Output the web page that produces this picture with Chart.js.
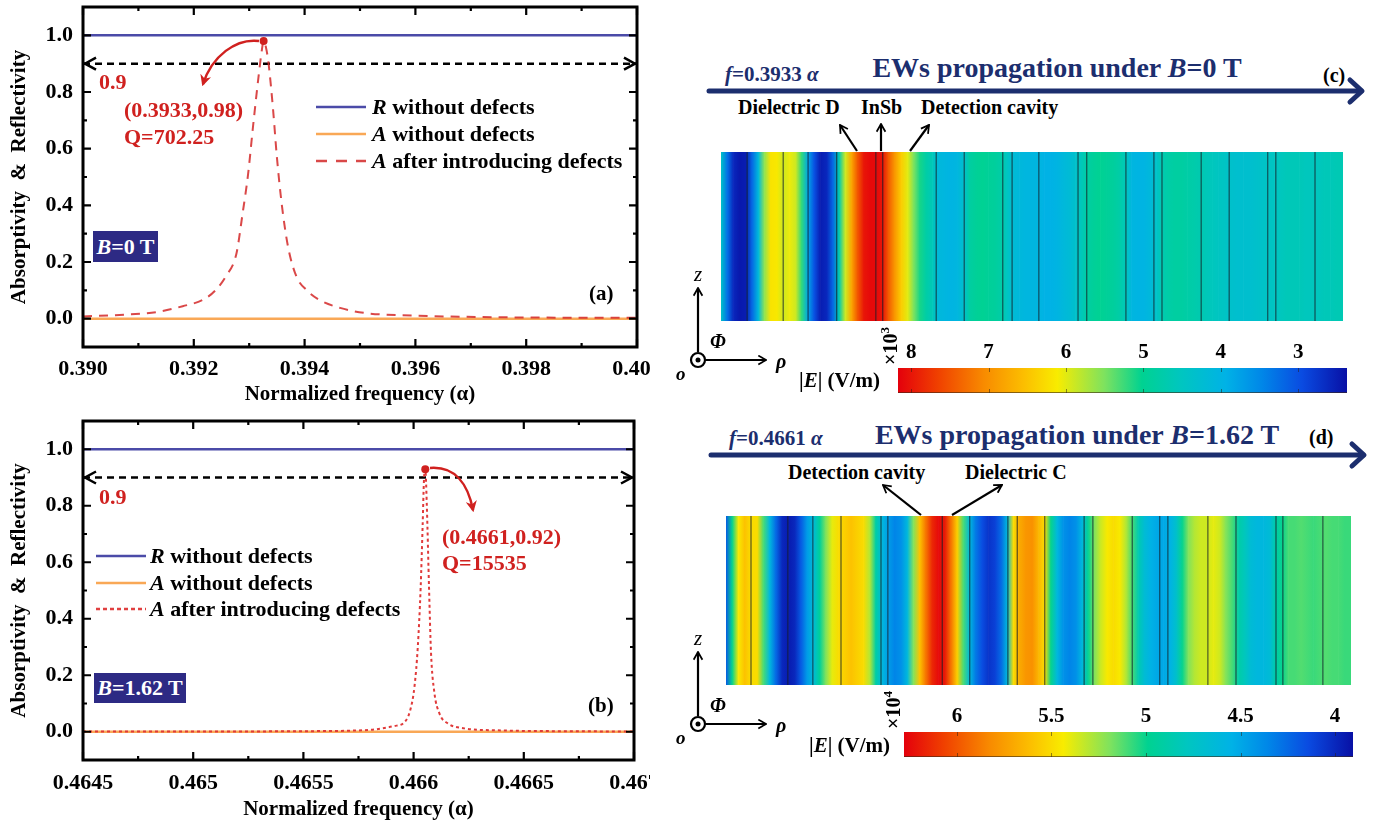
<!DOCTYPE html>
<html>
<head>
<meta charset="utf-8">
<script src="https://cdn.jsdelivr.net/npm/chart.js@4.4.0/dist/chart.umd.min.js"></script>
<style>
  body { margin: 0; width: 1387px; height: 826px; background: #fff; position: relative; overflow: hidden;
         font-family: "Liberation Serif", "Times New Roman", serif; font-weight: bold; }
  .box { position: absolute; overflow: hidden; }
  canvas { display: block; }
  .t { position: absolute; white-space: nowrap; line-height: 1; transform: translate(0, -50%); }
  .c { transform: translate(-50%, -50%); }
  .red { color: #d0211f; font-size: 22px; }
  .lg { font-size: 22px; color: #000; }
  .navy { color: #1c2e6e; }
  .tag { position: absolute; background: #2d2a84; color: #fff; font-size: 22px; line-height: 1;
         display: flex; align-items: center; justify-content: center; }
  svg { position: absolute; left: 0; top: 0; pointer-events: none; }
</style>
</head>
<body>

<div class="box" style="left:0;top:0;width:650px;height:415px"><canvas id="chartA" width="690" height="415"></canvas></div>
<div class="box" style="left:0;top:415px;width:650px;height:411px"><canvas id="chartB" width="690" height="411"></canvas></div>
<div class="box" style="left:721px;top:152px;width:622px;height:169px"><canvas id="fieldC" width="622" height="169"></canvas></div>
<div class="box" style="left:726px;top:516px;width:625px;height:169px"><canvas id="fieldD" width="625" height="169"></canvas></div>
<div class="box" style="left:880px;top:330px;width:480px;height:64px"><canvas id="barC" width="480" height="64"></canvas></div>
<div class="box" style="left:880px;top:694px;width:480px;height:64px"><canvas id="barD" width="480" height="64"></canvas></div>

<!-- panel (a) texts -->
<div class="t red" style="left:99px;top:82px">0.9</div>
<div class="t red" style="left:124px;top:110px">(0.3933,0.98)</div>
<div class="t red" style="left:124px;top:137px">Q=702.25</div>
<div class="t lg" style="left:372px;top:107px"><i>R</i> without defects</div>
<div class="t lg" style="left:372px;top:134px"><i>A</i> without defects</div>
<div class="t lg" style="left:372px;top:161px"><i>A</i> after introducing defects</div>
<div class="tag" style="left:93px;top:231px;width:65px;height:31px"><i>B</i>=0 T</div>
<div class="t" style="left:589px;top:293px;font-size:21px">(a)</div>

<!-- panel (b) texts -->
<div class="t red" style="left:99px;top:497px">0.9</div>
<div class="t red" style="left:442px;top:537px">(0.4661,0.92)</div>
<div class="t red" style="left:442px;top:563px">Q=15535</div>
<div class="t lg" style="left:150px;top:556px"><i>R</i> without defects</div>
<div class="t lg" style="left:150px;top:583px"><i>A</i> without defects</div>
<div class="t lg" style="left:150px;top:609px"><i>A</i> after introducing defects</div>
<div class="tag" style="left:94px;top:673px;width:92px;height:30px"><i>B</i>=1.62 T</div>
<div class="t" style="left:588px;top:705px;font-size:21px">(b)</div>

<!-- panel (c) texts -->
<div class="t navy" style="left:725px;top:74px;font-size:21px"><i>f</i>=0.3933 <i>α</i></div>
<div class="t c navy" style="left:1057px;top:68px;font-size:28px">EWs propagation under <i>B</i>=0 T</div>
<div class="t" style="left:1323px;top:75px;font-size:20px">(c)</div>
<div class="t" style="left:738px;top:107px;font-size:20px">Dielectric D</div>
<div class="t" style="left:861px;top:107px;font-size:20px">InSb</div>
<div class="t" style="left:921px;top:107px;font-size:20px">Detection cavity</div>
<div class="t c" style="left:698px;top:274px;font-size:21px;font-weight:normal"><i>z</i></div>
<div class="t" style="left:710px;top:341px;font-size:20px"><i>Φ</i></div>
<div class="t" style="left:776px;top:361px;font-size:20px"><i>ρ</i></div>
<div class="t" style="left:676px;top:373px;font-size:19px"><i>o</i></div>
<div class="t" style="left:799px;top:380px;font-size:21px">|<i>E</i>| (V/m)</div>
<div class="t c" style="left:889px;top:346px;font-size:20px;transform:translate(-50%,-50%) rotate(-90deg)">×10<sup style="font-size:13px">3</sup></div>

<!-- panel (d) texts -->
<div class="t navy" style="left:729px;top:438px;font-size:21px"><i>f</i>=0.4661 <i>α</i></div>
<div class="t c navy" style="left:1077px;top:435px;font-size:28px">EWs propagation under <i>B</i>=1.62 T</div>
<div class="t" style="left:1309px;top:437px;font-size:20px">(d)</div>
<div class="t" style="left:788px;top:472px;font-size:20px">Detection cavity</div>
<div class="t" style="left:965px;top:472px;font-size:20px">Dielectric C</div>
<div class="t c" style="left:698px;top:638px;font-size:21px;font-weight:normal"><i>z</i></div>
<div class="t" style="left:710px;top:705px;font-size:20px"><i>Φ</i></div>
<div class="t" style="left:776px;top:725px;font-size:20px"><i>ρ</i></div>
<div class="t" style="left:676px;top:737px;font-size:19px"><i>o</i></div>
<div class="t" style="left:809px;top:745px;font-size:21px">|<i>E</i>| (V/m)</div>
<div class="t c" style="left:892px;top:710px;font-size:20px;transform:translate(-50%,-50%) rotate(-90deg)">×10<sup style="font-size:13px">4</sup></div>

<svg width="1387" height="826">
  <defs>
    <marker id="hr" viewBox="0 0 10 10" refX="8" refY="5" markerWidth="4.5" markerHeight="4.5" orient="auto">
      <path d="M0,0 L10,5 L0,10 L3,5 z" fill="#d0211f"/>
    </marker>
    <marker id="hk" viewBox="0 0 10 10" refX="9" refY="5" markerWidth="5" markerHeight="5" orient="auto">
      <path d="M2,1 L9,5 L2,9" fill="none" stroke="#000" stroke-width="1.6" stroke-linejoin="miter"/>
    </marker>
  </defs>
  <!-- legend samples -->
  <line x1="316" y1="107" x2="366" y2="107" stroke="#4b4ba8" stroke-width="2.5"/>
  <line x1="316" y1="134" x2="366" y2="134" stroke="#f9a856" stroke-width="2.5"/>
  <line x1="316" y1="161" x2="366" y2="161" stroke="#d94848" stroke-width="2.5" stroke-dasharray="11 9"/>
  <line x1="96" y1="556" x2="146" y2="556" stroke="#4b4ba8" stroke-width="2.5"/>
  <line x1="96" y1="583" x2="146" y2="583" stroke="#f9a856" stroke-width="2.5"/>
  <line x1="96" y1="609" x2="146" y2="609" stroke="#e04040" stroke-width="2.5" stroke-dasharray="4 3"/>
  <!-- red curved callouts -->
  <path d="M259,41 C236,38 212,56 203,84" stroke="#d0211f" stroke-width="2.5" fill="none" marker-end="url(#hr)"/>
  <path d="M430,468 C455,466 468,484 473,510" stroke="#d0211f" stroke-width="2.5" fill="none" marker-end="url(#hr)"/>
  <!-- propagation arrows -->
  <line x1="709" y1="91" x2="1361" y2="91" stroke="#1c2e6e" stroke-width="5" stroke-linecap="round"/>
  <polyline points="1350,80 1362,91 1350,102" fill="none" stroke="#1c2e6e" stroke-width="5" stroke-linecap="round" stroke-linejoin="round"/>
  <line x1="711" y1="455" x2="1363" y2="455" stroke="#1c2e6e" stroke-width="5" stroke-linecap="round"/>
  <polyline points="1352,444 1364,455 1352,466" fill="none" stroke="#1c2e6e" stroke-width="5" stroke-linecap="round" stroke-linejoin="round"/>
  <!-- layer pointers -->
  <g stroke="#000" stroke-width="2.2" fill="none" marker-end="url(#hk)">
    <line x1="857" y1="151" x2="840" y2="125"/>
    <line x1="881" y1="151" x2="881" y2="124"/>
    <line x1="910" y1="151" x2="929" y2="125"/>
    <line x1="921" y1="515" x2="883" y2="485"/>
    <line x1="952" y1="515" x2="1002" y2="485"/>
    <line x1="698" y1="352" x2="698" y2="288"/>
    <line x1="706" y1="360" x2="766" y2="360"/>
    <line x1="698" y1="716" x2="698" y2="652"/>
    <line x1="706" y1="724" x2="766" y2="724"/>
  </g>
  <circle cx="698" cy="360" r="7" fill="none" stroke="#000" stroke-width="2.2"/>
  <circle cx="698" cy="360" r="2.5" fill="#000"/>
  <circle cx="698" cy="724" r="7" fill="none" stroke="#000" stroke-width="2.2"/>
  <circle cx="698" cy="724" r="2.5" fill="#000"/>
</svg>

<script>
// ---- panel (a): B = 0 T ----
const edgesA = [0.390, 0.400];
const reflA = [1.0, 1.0];
const absNoDefA = [0.0, 0.0];
const freqA = [0.39000, 0.39075, 0.39135, 0.39180, 0.39217, 0.39239, 0.39258, 0.39277, 0.39288, 0.39298,
               0.39307, 0.39316, 0.39323, 0.39326, 0.39330, 0.39335, 0.39343, 0.39350, 0.39359, 0.39370,
               0.39385, 0.39404, 0.39426, 0.39464, 0.39509, 0.39598, 0.39748, 0.40000];
const absA = [0.008, 0.014, 0.024, 0.044, 0.067, 0.100, 0.150, 0.230, 0.370, 0.510,
              0.680, 0.840, 0.950, 0.980, 0.960, 0.900, 0.740, 0.570, 0.400, 0.255,
              0.150, 0.100, 0.067, 0.038, 0.020, 0.011, 0.005, 0.003];
const peakA = [0.39326, 0.98];
const xTicksA = [0.390, 0.392, 0.394, 0.396, 0.398, 0.400];

// ---- panel (b): B = 1.62 T ----
const edgesB = [0.4645, 0.4670];
const reflB = [1.0, 1.0];
const absNoDefB = [0.0, 0.0];
const freqB = [0.46450, 0.46500, 0.46550, 0.46572, 0.46582, 0.46591, 0.46596, 0.465985, 0.466004, 0.466019,
               0.466032, 0.466041, 0.466047, 0.466053, 0.466060, 0.466070, 0.466079, 0.466094, 0.466117, 0.466154,
               0.46623, 0.46638, 0.46666, 0.46700];
const absB = [0.001, 0.001, 0.002, 0.004, 0.008, 0.020, 0.035, 0.077, 0.160, 0.300,
              0.510, 0.730, 0.890, 0.930, 0.800, 0.510, 0.280, 0.140, 0.065, 0.030,
              0.012, 0.005, 0.002, 0.001];
const peakB = [0.466053, 0.929];
const xTicksB = [0.4645, 0.4650, 0.4655, 0.4660, 0.4665, 0.4670];

const threshold = [0.9, 0.9];
const yTicks = [0.0, 0.2, 0.4, 0.6, 0.8, 1.0];

// ---- field maps |E| along rho (c: x10^3 V/m, d: x10^4 V/m), one sample per 1% of the map width ----
const fieldC = [
  4.40, 3.30, 2.60, 2.45, 2.50, 3.20, 4.10, 5.60, 6.20, 6.15,
  5.90, 6.05, 5.90, 5.20, 3.80, 3.00, 2.50, 2.60, 3.20, 4.70,
  5.90, 6.80, 7.50, 8.00, 8.10, 8.10, 8.00, 7.40, 6.90, 6.40,
  6.00, 5.50, 5.10, 4.80, 4.60, 4.10, 4.05, 4.00, 4.05, 4.30,
  4.85, 4.95, 5.00, 4.95, 4.90, 4.80, 4.50, 4.20, 4.10, 4.05,
  4.05, 4.05, 3.95, 3.95, 4.00, 4.10, 4.20, 4.35, 4.60, 4.85,
  4.95, 5.00, 4.95, 4.90, 4.80, 4.60, 4.05, 4.00, 4.00, 4.10,
  4.40, 4.70, 4.80, 4.85, 4.85, 4.80, 4.75, 4.70, 4.60, 4.55,
  4.50, 4.45, 4.35, 4.30, 4.30, 4.30, 4.35, 4.40, 4.45, 4.50,
  4.55, 4.60, 4.60, 4.60, 4.55, 4.55, 4.55, 4.60, 4.60, 4.65,
  4.65];
const fieldD = [
  4.20, 5.00, 5.45, 5.60, 5.50, 5.50, 5.10, 4.60, 4.25, 4.00,
  3.95, 4.00, 4.20, 4.45, 4.65, 4.95, 5.20, 5.40, 5.50, 5.55,
  5.60, 5.55, 5.50, 5.30, 4.90, 4.60, 4.45, 4.35, 4.40, 4.60,
  5.20, 5.60, 5.90, 6.15, 6.25, 6.20, 5.90, 5.55, 5.10, 4.60,
  4.30, 4.15, 4.05, 4.10, 4.25, 4.60, 5.50, 5.70, 5.78, 5.80,
  5.65, 5.50, 5.00, 4.60, 4.40, 4.35, 4.40, 4.60, 5.00, 5.20,
  5.35, 5.45, 5.50, 5.45, 5.30, 5.10, 4.85, 4.65, 4.55, 4.50,
  4.50, 4.55, 4.70, 5.00, 5.20, 5.30, 5.35, 5.35, 5.40, 5.35,
  5.20, 5.10, 4.90, 4.80, 4.65, 4.60, 4.60, 4.65, 4.90, 5.00,
  5.10, 5.10, 5.12, 5.10, 5.08, 5.10, 5.12, 5.10, 5.10, 5.08,
  5.08];
// layer interfaces, in % of map width
const boundC = [4.2, 10.0, 14.0, 18.6, 24.9, 26.0, 34.6, 39.1, 45.3, 46.8, 51.1, 57.4, 58.8, 65.1, 69.6, 70.9, 77.2, 81.7, 87.9, 89.2, 95.5];
const boundD = [4.0, 9.9, 13.9, 18.4, 24.8, 25.9, 34.6, 39.0, 45.1, 46.6, 51.0, 57.3, 58.7, 65.0, 69.4, 70.7, 77.1, 81.6, 88.0, 89.1, 95.5];

// colour bars
const cbRangeC = [2.37, 8.17];
const cbTicksC = [8, 7, 6, 5, 4, 3];
const cbRangeD = [3.905, 6.28];
const cbTicksD = [6, 5.5, 5, 4.5, 4];

// jet-like colormap (0 = low, 1 = high)
const cmap = [
  [0.00, [8, 16, 165]],
  [0.10, [10, 75, 225]],
  [0.19, [0, 135, 232]],
  [0.27, [0, 178, 230]],
  [0.37, [0, 198, 192]],
  [0.457, [0, 210, 145]],
  [0.54, [125, 226, 95]],
  [0.645, [248, 236, 0]],
  [0.72, [252, 190, 0]],
  [0.81, [248, 138, 0]],
  [0.91, [240, 65, 0]],
  [1.00, [228, 0, 12]]
];

function colorOf(v, lo, hi) {
  let t = Math.min(1, Math.max(0, (v - lo) / (hi - lo)));
  for (let i = 1; i < cmap.length; i++) {
    if (t <= cmap[i][0]) {
      const [t0, c0] = cmap[i - 1], [t1, c1] = cmap[i];
      const f = (t - t0) / (t1 - t0);
      const c = c0.map((a, k) => Math.round(a + (c1[k] - a) * f));
      return `rgb(${c[0]},${c[1]},${c[2]})`;
    }
  }
  return 'rgb(228,0,12)';
}

const serif = '"Liberation Serif", "Times New Roman", serif';
const RED = '#d0211f';

// box frame + inward ticks + arrowheads on the 0.9 line
const framePlugin = {
  id: 'frame',
  afterDatasetsDraw(chart, args, opts) {
    if (!opts.on) return;
    const {ctx, chartArea: a} = chart;
    const xs = chart.scales.x, ys = chart.scales.y;
    const mids = v => v.slice(1).map((w, i) => (w + v[i]) / 2);
    const xMaj = xs.ticks.map(t => t.value), yMaj = ys.ticks.map(t => t.value);
    ctx.save();
    ctx.strokeStyle = '#000';
    ctx.lineWidth = 2.2;
    const xt = (vals, len) => vals.forEach(v => {
      const p = xs.getPixelForValue(v);
      ctx.beginPath();
      ctx.moveTo(p, a.bottom); ctx.lineTo(p, a.bottom - len);
      ctx.moveTo(p, a.top); ctx.lineTo(p, a.top + len);
      ctx.stroke();
    });
    const yt = (vals, len) => vals.forEach(v => {
      const p = ys.getPixelForValue(v);
      ctx.beginPath();
      ctx.moveTo(a.left, p); ctx.lineTo(a.left + len, p);
      ctx.moveTo(a.right, p); ctx.lineTo(a.right - len, p);
      ctx.stroke();
    });
    xt(xMaj, 8); xt(mids(xMaj), 4);
    yt(yMaj, 8); yt(mids(yMaj), 4);
    ctx.lineWidth = 3;
    ctx.strokeRect(a.left, a.top, a.right - a.left, a.bottom - a.top);
    const py = ys.getPixelForValue(opts.arrowY);
    ctx.lineWidth = 2.5;
    ctx.beginPath();
    ctx.moveTo(a.left + 13, py - 6); ctx.lineTo(a.left + 2, py); ctx.lineTo(a.left + 13, py + 6);
    ctx.moveTo(a.right - 13, py - 6); ctx.lineTo(a.right - 2, py); ctx.lineTo(a.right - 13, py + 6);
    ctx.stroke();
    ctx.restore();
  }
};

function pts(xs, ys) { return xs.map((x, i) => ({x, y: ys[i]})); }

function specChart(id, o) {
  const font = {family: serif, size: 21, weight: 'bold'};
  const tickFont = {family: serif, size: 22, weight: 'bold'};
  return new Chart(document.getElementById(id), {
    type: 'line',
    data: {
      datasets: [
        {data: [{x: o.peak[0], y: o.peak[1]}], showLine: false, pointRadius: 4, pointBackgroundColor: RED, pointBorderWidth: 0},
        {data: pts(o.freq, o.abs), borderColor: o.dColor, borderWidth: 2, borderDash: o.dash, cubicInterpolationMode: 'monotone'},
        {data: pts(o.edges, threshold), borderColor: '#000', borderWidth: 2.5, borderDash: [7, 5]},
        {data: pts(o.edges, o.absNoDef), borderColor: '#f9a856', borderWidth: 2.5},
        {data: pts(o.edges, o.refl), borderColor: '#4b4ba8', borderWidth: 2.5}
      ]
    },
    options: {
      responsive: false, animation: false, devicePixelRatio: 1,
      layout: {padding: o.pad},
      elements: {point: {radius: 0}, line: {tension: 0}},
      plugins: {legend: {display: false}, tooltip: {enabled: false}, frame: {on: true, arrowY: threshold[0]}},
      scales: {
        x: {
          type: 'linear', min: o.edges[0], max: o.edges[1],
          afterBuildTicks: s => { s.ticks = o.xTicks.map(v => ({value: v})); },
          afterFit: s => { s.height = o.xh; s.paddingLeft = 0; s.paddingRight = 0; },
          grid: {display: false, drawTicks: false}, border: {display: false},
          ticks: {autoSkip: false, maxRotation: 0, padding: o.xpad, color: '#000', font: tickFont, callback: o.fmt},
          title: {display: true, text: 'Normalized frequency (α)', color: '#000', font, padding: {top: 0, bottom: o.tpad}}
        },
        y: {
          min: -0.1, max: 1.1,
          afterBuildTicks: s => { s.ticks = yTicks.map(v => ({value: v})); },
          afterFit: s => { s.width = 83; s.paddingTop = 0; s.paddingBottom = 0; },
          grid: {display: false, drawTicks: false}, border: {display: false},
          ticks: {padding: 10, color: '#000', font: tickFont, callback: v => v.toFixed(1)},
          title: {display: true, text: 'Absorptivity  &  Reflectivity', color: '#000', font, padding: {top: 7, bottom: 0}}
        }
      }
    },
    plugins: [framePlugin]
  });
}

specChart('chartA', {
  edges: edgesA, refl: reflA, absNoDef: absNoDefA, freq: freqA, abs: absA, peak: peakA, xTicks: xTicksA,
  dColor: 'rgba(212,40,40,0.85)', dash: [9, 7],
  pad: {top: 7, right: 53, left: 0, bottom: 0}, xh: 68, xpad: 9, tpad: 8,
  fmt: v => v.toFixed(3)
});
specChart('chartB', {
  edges: edgesB, refl: reflB, absNoDef: absNoDefB, freq: freqB, abs: absB, peak: peakB, xTicks: xTicksB,
  dColor: '#e03a3a', dash: [3, 3],
  pad: {top: 6, right: 56, left: 0, bottom: 0}, xh: 66, xpad: 10, tpad: 4,
  fmt: v => String(+v.toFixed(4))
});

// field maps: one full-height bar per 1% slice, shaded between neighbouring samples
function fieldChart(id, values, bounds, range) {
  const cells = values.slice(0, -1).map((v, i) => ({x: i + 0.5, y: 1}));
  const lines = [];
  bounds.forEach(b => { lines.push({x: b, y: 0}, {x: b, y: 1}, {x: b, y: null}); });
  return new Chart(document.getElementById(id), {
    type: 'bar',
    data: {
      datasets: [
        {type: 'line', data: lines, borderColor: 'rgba(20,30,40,0.7)', borderWidth: 1.2, pointRadius: 0, spanGaps: false},
        {
          data: cells, barPercentage: 1, categoryPercentage: 1, borderWidth: 0,
          backgroundColor: c => {
            const i = c.dataIndex;
            if (i == null) return '#000';
            const xs = c.chart.scales.x;
            const x0 = xs ? xs.getPixelForValue(i) : NaN, x1 = xs ? xs.getPixelForValue(i + 1) : NaN;
            if (!isFinite(x0) || !isFinite(x1)) return colorOf(values[i], range[0], range[1]);
            const g = c.chart.ctx.createLinearGradient(x0, 0, x1, 0);
            g.addColorStop(0, colorOf(values[i], range[0], range[1]));
            g.addColorStop(1, colorOf(values[i + 1], range[0], range[1]));
            return g;
          }
        }
      ]
    },
    options: {
      responsive: false, animation: false, devicePixelRatio: 1,
      layout: {padding: 0},
      plugins: {legend: {display: false}, tooltip: {enabled: false}},
      scales: {
        x: {type: 'linear', display: false, offset: false, min: 0, max: values.length - 1},
        y: {display: false, min: 0, max: 1}
      }
    }
  });
}

fieldChart('fieldC', fieldC, boundC, cbRangeC);
fieldChart('fieldD', fieldD, boundD, cbRangeD);

// colour bars
const cbTickMarks = {
  id: 'cbTickMarks',
  afterDatasetsDraw(chart) {
    const {ctx, chartArea: a} = chart;
    const xs = chart.scales.x;
    ctx.save();
    ctx.strokeStyle = 'rgba(40,30,20,0.5)';
    ctx.lineWidth = 1;
    xs.ticks.forEach(t => {
      const p = Math.round(xs.getPixelForValue(t.value)) + 0.5;
      ctx.beginPath();
      ctx.moveTo(p, a.top); ctx.lineTo(p, a.top + 4);
      ctx.moveTo(p, a.bottom); ctx.lineTo(p, a.bottom - 4);
      ctx.stroke();
    });
    ctx.strokeStyle = 'rgba(60,40,20,0.6)';
    ctx.beginPath(); ctx.moveTo(a.left, a.bottom - 0.5); ctx.lineTo(a.right, a.bottom - 0.5); ctx.stroke();
    ctx.restore();
  }
};

function colorBar(id, range, ticks, pad) {
  return new Chart(document.getElementById(id), {
    type: 'bar',
    data: {
      labels: ['|E|'],
      datasets: [{
        data: [[range[0], range[1]]], barPercentage: 1, categoryPercentage: 1, borderWidth: 0,
        backgroundColor: c => {
          const a = c.chart.chartArea, xs = c.chart.scales.x;
          if (!a || !xs) return '#888';
          const g = c.chart.ctx.createLinearGradient(a.left, 0, a.right, 0);
          cmap.forEach(([t]) => {
            const v = range[0] + t * (range[1] - range[0]);
            const p = (xs.getPixelForValue(v) - a.left) / (a.right - a.left);
            g.addColorStop(Math.min(1, Math.max(0, p)), colorOf(v, range[0], range[1]));
          });
          return g;
        }
      }]
    },
    options: {
      indexAxis: 'y',
      responsive: false, animation: false, devicePixelRatio: 1,
      layout: {padding: pad},
      plugins: {legend: {display: false}, tooltip: {enabled: false}},
      scales: {
        x: {
          type: 'linear', position: 'top', reverse: true, min: range[0], max: range[1],
          afterBuildTicks: s => { s.ticks = ticks.map(v => ({value: v})); },
          afterFit: s => { s.height = 38; },
          grid: {display: false, drawTicks: false}, border: {display: false},
          ticks: {autoSkip: false, maxRotation: 0, padding: 3, color: '#000',
                  font: {family: serif, size: 21, weight: 'bold'}, callback: v => String(v)}
        },
        y: {display: false}
      }
    },
    plugins: [cbTickMarks]
  });
}

colorBar('barC', cbRangeC, cbTicksC, {left: 18, right: 13, top: 0, bottom: 1});
colorBar('barD', cbRangeD, cbTicksD, {left: 24, right: 7, top: 0, bottom: 1});
</script>
</body>
</html>
